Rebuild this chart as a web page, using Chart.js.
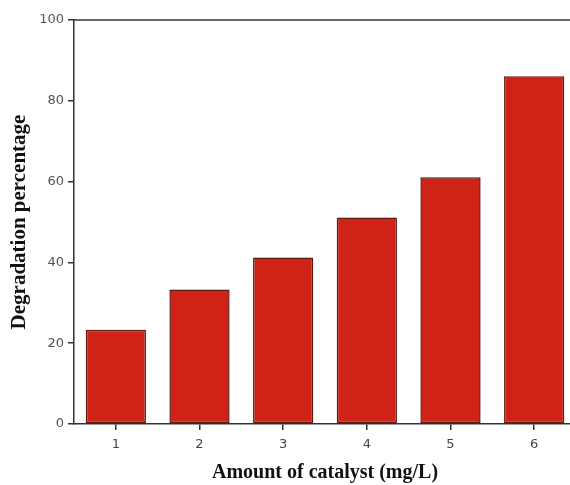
<!DOCTYPE html>
<html>
<head>
<meta charset="utf-8">
<script src="https://cdn.jsdelivr.net/npm/chart.js@4"></script>
<style>
  html, body { margin: 0; padding: 0; background: #fff; overflow: hidden; }
  #wrap { width: 578px; height: 485px; }
</style>
</head>
<body>
<div id="wrap"><canvas id="chart" width="578" height="485"></canvas></div>
<script>
// ===== DATA =====
const categories = ["1", "2", "3", "4", "5", "6"];
const degradation = [23.3, 33.3, 41.2, 51.1, 61.1, 86.1];
const yTicks = [0, 20, 40, 60, 80, 100];

// ===== FRAME (top line) =====
const framePlugin = {
  id: "frame",
  afterDraw(chart) {
    const { ctx, chartArea } = chart;
    ctx.save();
    ctx.strokeStyle = "#333";
    ctx.lineWidth = 1.5;
    ctx.beginPath();
    ctx.moveTo(chartArea.left, chartArea.top);
    ctx.lineTo(chartArea.right, chartArea.top);
    ctx.stroke();
    ctx.restore();
  }
};

// ===== CHART =====
new Chart(document.getElementById("chart"), {
  type: "bar",
  data: {
    labels: categories,
    datasets: [{
      data: degradation,
      backgroundColor: "#cf2317",
      borderColor: "#5e1a12",
      borderWidth: 1.5,
      borderSkipped: false,
      barPercentage: 0.72,
      categoryPercentage: 1
    }]
  },
  options: {
    responsive: false,
    animation: false,
    layout: { padding: { top: 20, right: 2, left: 0, bottom: 0 } },
    plugins: { legend: { display: false }, tooltip: { enabled: false } },
    scales: {
      x: {
        grid: { display: true, offset: false, drawOnChartArea: false, tickLength: 6, color: "#333", lineWidth: 1.5 },
        border: { color: "#333", width: 1.5 },
        ticks: { color: "#444", font: { family: "DejaVu Sans", size: 13 }, padding: 7 },
        title: {
          display: true,
          text: "Amount of catalyst (mg/L)",
          color: "#111",
          font: { family: "Liberation Serif", size: 20, weight: "bold" },
          padding: { top: 8, bottom: 0 }
        },
        afterFit(scale) { scale.height = 61; }
      },
      y: {
        min: 0,
        max: 100,
        afterBuildTicks(scale) { scale.ticks = yTicks.map(v => ({ value: v })); },
        grid: { display: true, drawOnChartArea: false, tickLength: 6, color: "#333", lineWidth: 1.5 },
        border: { color: "#333", width: 1.5 },
        ticks: { color: "#555", font: { family: "DejaVu Sans", size: 13 }, padding: 4 },
        title: {
          display: true,
          text: "Degradation percentage",
          color: "#111",
          font: { family: "Liberation Serif", size: 21, weight: "bold" },
          padding: { top: 7, bottom: 8 }
        },
        afterFit(scale) { scale.width = 74; }
      }
    }
  },
  plugins: [framePlugin]
});
</script>
</body>
</html>
